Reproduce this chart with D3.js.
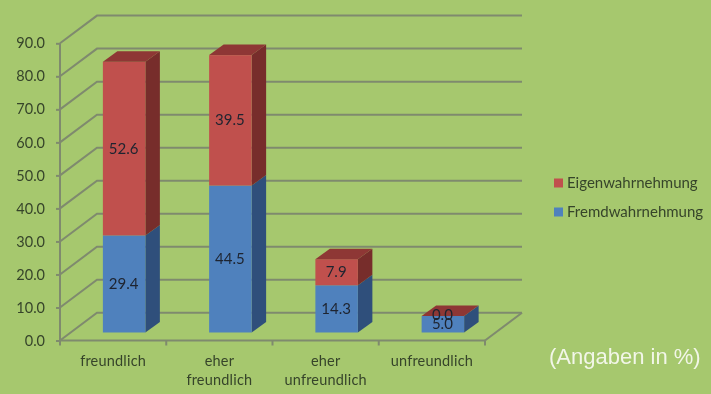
<!DOCTYPE html>
<html><head><meta charset="utf-8">
<script src="https://cdn.jsdelivr.net/npm/d3@7"></script>
<style>html,body{margin:0;padding:0;background:#a6c86e}svg{display:block;filter:blur(0.55px)}</style>
</head><body><svg id="c" width="711" height="394"></svg>
<script>
const categories=[["freundlich"],["eher","freundlich"],["eher","unfreundlich"],["unfreundlich"]];
const fremd=[29.4,44.5,14.3,5.0];
const eigen=[52.6,39.5,7.9,0.0];
const seriesNames=["Eigenwahrnehmung","Fremdwahrnehmung"];
const yTicks=[0,10,20,30,40,50,60,70,80,90];
const note="(Angaben in %)";

const svg=d3.select("#c");
svg.append("rect").attr("width",711).attr("height",394).attr("fill","#a6c86e");
const y=d3.scaleLinear().domain([0,90]).range([340.5,43.3]);
const x=d3.scaleBand().domain(d3.range(4)).range([60,485]).paddingInner(0).paddingOuter(0);
const D={x:37,y:27.7}, bar={dx:11,dy:8,w:42.5,side:14.5,sideY:10.5};
const grid="#7f8a6e", txt="#36442a", sw=2;

// walls and grid
const g=svg.append("g").attr("fill","none").attr("stroke",grid).attr("stroke-width",sw);
yTicks.forEach(t=>{
  g.append("path").attr("d",`M${60},${y(t)}L${60+D.x},${y(t)-D.y}L${485+D.x},${y(t)-D.y}`);
});
g.append("path").attr("d",`M${485+D.x},${y(0)-D.y}L485,${y(0)}`);
g.append("path").attr("d",`M60,${y(90)}V${y(0)}H485`);

// axes
const ax=svg.append("g").attr("transform","translate(60,0)").call(d3.axisLeft(y).tickValues(yTicks).tickFormat(d3.format(".1f")).tickSize(4).tickPadding(11));
ax.select(".domain").remove();
ax.selectAll("line").attr("stroke",grid).attr("stroke-width",sw);
ax.selectAll("text").attr("font-family","Lato").attr("font-size",14.5).attr("fill",txt);
[0,1,2,3,4].forEach(i=>svg.append("line").attr("x1",60+i*x.bandwidth()).attr("x2",60+i*x.bandwidth()).attr("y1",y(0)).attr("y2",y(0)+5).attr("stroke",grid).attr("stroke-width",sw));
categories.forEach((c,i)=>{
  const cx=x(i)+x.bandwidth()/2;
  c.forEach((s,j)=>svg.append("text").attr("x",cx).attr("y",366+j*19).attr("text-anchor","middle").attr("font-family","Lato").attr("font-size",14.5).attr("letter-spacing",0.2).attr("fill",txt).text(s));
});

// bars
const cols={f:{front:"#4f81bd",side:"#2f4f7b",top:"#3a6396"},e:{front:"#c0504d",side:"#772d2b",top:"#8e3735"}};
const yb=v=>y(v)-bar.dy;
function drawSeg(i,from,to,c){
  const L=x(i)+(x.bandwidth()-bar.w)/2+bar.dx, R=L+bar.w;
  const a=yb(from),b=yb(to);
  svg.append("path").attr("fill",c.side).attr("d",`M${R},${a}L${R+bar.side},${a-bar.sideY}L${R+bar.side},${b-bar.sideY}L${R},${b}Z`);
  svg.append("rect").attr("x",L).attr("y",b).attr("width",bar.w).attr("height",a-b).attr("fill",c.front);
  return {L,R,a,b};
}
fremd.forEach((f,i)=>{
  const e=eigen[i];
  const s1=drawSeg(i,0,f,cols.f), s2=drawSeg(i,f,f+e,cols.e);
  svg.append("path").attr("fill",cols.e.top).attr("d",`M${s2.L},${s2.b}L${s2.L+bar.side},${s2.b-bar.sideY}L${s2.R+bar.side},${s2.b-bar.sideY}L${s2.R},${s2.b}Z`);
  const lab=(v,m)=>svg.append("text").attr("x",(s1.L+s1.R)/2-0.5).attr("y",m+5).attr("text-anchor","middle").attr("font-family","Lato").attr("font-size",15).attr("fill","#1e2430").text(d3.format(".1f")(v));
  lab(f,(s1.a+s1.b)/2);
  lab(e,i==3?s2.b-1:(s2.a+s2.b)/2);
});

// legend
const leg=[[seriesNames[0],cols.e.front,183],[seriesNames[1],cols.f.front,212]];
leg.forEach(([n,c,yy])=>{
  svg.append("rect").attr("x",554).attr("y",yy-4.5).attr("width",9).attr("height",9).attr("fill",c);
  svg.append("text").attr("x",567).attr("y",yy+5).attr("font-family","Lato").attr("font-size",15).attr("fill",txt).text(n);
});
svg.append("text").attr("x",549).attr("y",364).attr("font-family","Liberation Sans").attr("font-size",22).attr("fill","#f2f6e8").text(note);
</script></body></html>
